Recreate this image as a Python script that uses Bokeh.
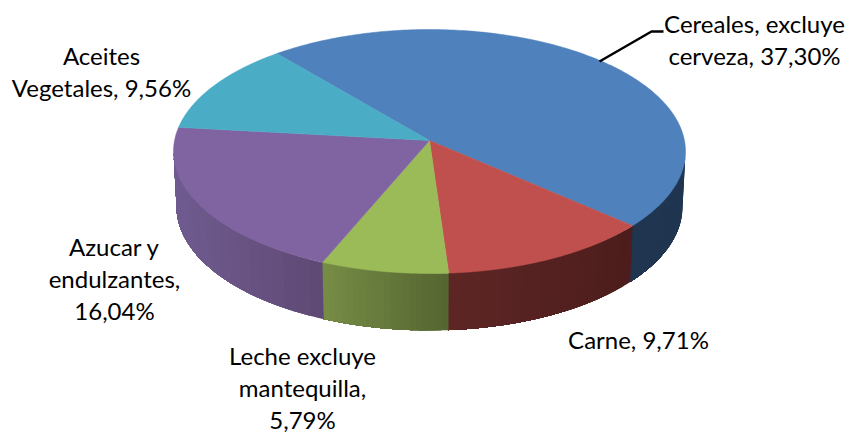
import numpy as np
from bokeh.plotting import figure
from bokeh.models import Range1d
from bokeh.core.properties import value
from bokeh.embed import file_html
from bokeh.resources import INLINE

# Data
categories = ["Cereales, excluye cerveza", "Carne", "Leche excluye mantequilla",
              "Azucar y endulzantes", "Aceites Vegetales"]
shares = [37.30, 9.71, 5.79, 16.04, 9.56]
top_colors = ["#4F81BD", "#C0504D", "#9BBB59", "#8064A2", "#4BACC6"]
wall_left = ["#1F3550", "#5E2625", "#778D46", "#705B90", "#2E6A7A"]
wall_right = ["#1F3550", "#4C1D1C", "#546530", "#5E4974", "#2E6A7A"]
label_lines = [
    ["Cereales, excluye", "cerveza, 37,30%"],
    ["Carne, 9,71%"],
    ["Leche excluye", "mantequilla,", "5,79%"],
    ["Azucar y", "endulzantes,", "16,04%"],
    ["Aceites", "Vegetales, 9,56%"],
]
label_x = [754, 638, 302, 114, 101]
label_y = [23, 339, 355, 246, 55]
line_step = 32
start_angle = 129.8

# Pie projection in page pixels
cx, cy, rx, ry = 429.0, 151.0, 256.0, 122.0
bcy, brx, bry = 206.0, 253.0, 124.0
d = 0.09   # perspective shift of the pie centre on the ellipse


def rim(theta_deg):
    """True pie angle -> normalised point on the top ellipse (v down)."""
    t = np.radians(theta_deg)
    u0, v0 = np.cos(t), -np.sin(t)
    den = 1 - d * v0
    return u0 * np.sqrt(1 - d * d) / den, (v0 - d) / den


def hex_rgb(h):
    return np.array([int(h[i:i + 2], 16) for i in (1, 3, 5)], dtype=float)


W, H = 858, 433
p = figure(width=W, height=H, output_backend="svg", toolbar_location=None,
           x_range=Range1d(0, W), y_range=Range1d(H, 0),
           min_border=0, outline_line_color=None, background_fill_color="white",
           border_fill_color="white")
p.axis.visible = False
p.grid.visible = False

total = sum(shares)
edges = start_angle - np.cumsum([0] + shares) / total * 360.0

# Side walls: each band reaches to the slice's far end, painted in order, so no seams show
for i in range(len(shares)):
    ths = np.linspace(edges[i], edges[i + 1], 600)
    us, vs = rim(ths)
    keep = vs >= 0
    if keep.sum() < 2:
        continue
    us, vs = us[keep], vs[keep]
    xt, yt = cx + rx * us, cy + ry * vs
    xb, yb = cx + brx * us, bcy + bry * vs
    xmin, xmax = min(xt.min(), xb.min()), max(xt.max(), xb.max())
    cl, cr = hex_rgb(wall_left[i]), hex_rgb(wall_right[i])
    n_bands = 20
    bounds = np.linspace(0, len(us) - 1, n_bands + 1).round().astype(int)
    xs, ys, cols = [], [], []
    for j in range(n_bands):
        a = bounds[j]
        f = (xt[a:bounds[j + 1] + 1].mean() - xmin) / max(xmax - xmin, 1)
        c = cl + (cr - cl) * f
        cols.append("#%02x%02x%02x" % tuple(int(round(q)) for q in c))
        xs.append(np.concatenate([xt[a:], xb[a:][::-1]]))
        ys.append(np.concatenate([yt[a:], yb[a:][::-1]]))
    p.patches(xs, ys, fill_color=cols, line_color=None)

# Top faces
ax, ay = cx, cy - d * ry
for i in range(len(shares)):
    ths = np.linspace(edges[i], edges[i + 1], 200)
    us, vs = rim(ths)
    xs = np.concatenate([[ax], cx + rx * us])
    ys = np.concatenate([[ay], cy + ry * vs])
    p.patch(xs, ys, fill_color=top_colors[i], line_color=top_colors[i], line_width=0.5)

# Leader line
p.line([599, 651, 663], [61, 31, 31], line_color="black", line_width=2.5)

# Labels
tx, ty, tt = [], [], []
for lines, lx, ly in zip(label_lines, label_x, label_y):
    for k, s in enumerate(lines):
        tx.append(lx)
        ty.append(ly + k * line_step)
        tt.append(s)
p.text(tx, ty, text=tt, text_align="center", text_baseline="middle",
       text_font=value("Lato"), text_font_size="24px", text_color="black")

open("out.html", "w").write(file_html(p, INLINE))
